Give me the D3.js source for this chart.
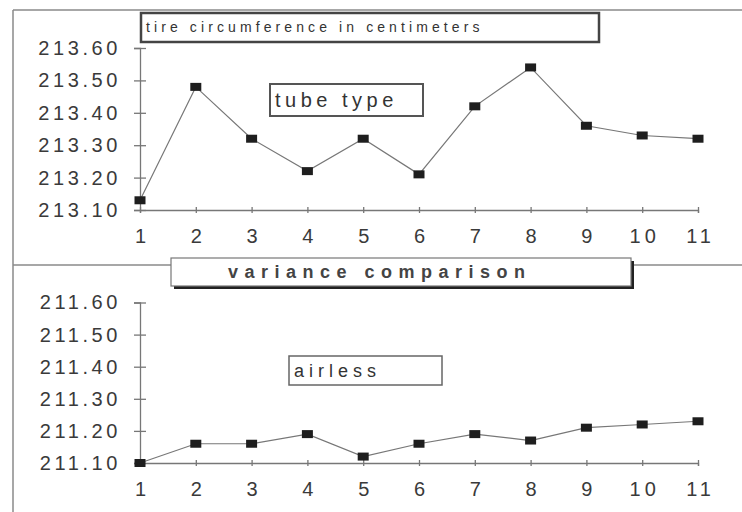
<!DOCTYPE html>
<html>
<head>
<meta charset="utf-8">
<script src="https://cdn.jsdelivr.net/npm/d3@7"></script>
<style>
  body { margin: 0; background: #fff; }
  svg { display: block; font-family: "Liberation Sans", Arial, sans-serif; }
</style>
</head>
<body>
<div id="chart"></div>
<script>
// run numbers along the bottom of both panels
const runs = [1, 2, 3, 4, 5, 6, 7, 8, 9, 10, 11]

// tire circumference in cm
const tubeType = [213.13, 213.48, 213.32, 213.22, 213.32, 213.21, 213.42, 213.54, 213.36, 213.33, 213.32]
const airless = [211.10, 211.16, 211.16, 211.19, 211.12, 211.16, 211.19, 211.17, 211.21, 211.22, 211.23]

// tick labels for the two y axes
const tubeTicks = [213.10, 213.20, 213.30, 213.40, 213.50, 213.60]
const airlessTicks = [211.10, 211.20, 211.30, 211.40, 211.50, 211.60]

const width = 742, height = 512

let svg = d3.select("#chart").append("svg")
    .attr("width", width)
    .attr("height", height)

// outer frame lines (the scan is cropped on the right and bottom)
let frame = svg.append("g").attr("stroke", "#8a8a8a").attr("stroke-width", 1.5).attr("fill", "none")
frame.append("line").attr("x1", 13).attr("y1", 10).attr("x2", width).attr("y2", 10)
frame.append("line").attr("x1", 13).attr("y1", 10).attr("x2", 13).attr("y2", height)
frame.append("line").attr("x1", 13).attr("y1", 265).attr("x2", 172).attr("y2", 265)
frame.append("line").attr("x1", 632).attr("y1", 265).attr("x2", width).attr("y2", 265)

let x = d3.scaleLinear().domain([1, 11]).range([140, 698])

// draws one panel: axes, line and square markers
function drawPanel(values, ticks, top, bottom) {
    let y = d3.scaleLinear().domain([ticks[0], ticks[ticks.length - 1]]).range([bottom, top])
    let g = svg.append("g")

    let yAxis = g.append("g")
        .attr("transform", "translate(" + x(1) + ",0)")
        .call(d3.axisLeft(y).tickValues(ticks).tickFormat(d3.format(".2f")).tickSizeOuter(0).tickSize(6).tickPadding(13))
    yAxis.select(".domain").attr("stroke", "#777").attr("stroke-width", 1.3)
    yAxis.selectAll(".tick line").attr("x2", 6).attr("x1", -6).attr("stroke", "#777").attr("stroke-width", 1.3)
    yAxis.selectAll(".tick text")
        .attr("fill", "#3a3a3a")
        .style("font-size", "20px")
        .style("letter-spacing", "3.6px")

    let xAxis = g.append("g")
        .attr("transform", "translate(0," + bottom + ")")
        .call(d3.axisBottom(x).tickValues(runs).tickFormat(d3.format("d")).tickSizeOuter(0).tickSize(3).tickPadding(16))
    xAxis.select(".domain").attr("stroke", "#777").attr("stroke-width", 1.3)
    xAxis.selectAll(".tick line").attr("y1", -3).attr("y2", 3).attr("stroke", "#777").attr("stroke-width", 1.3)
    xAxis.selectAll(".tick text")
        .attr("fill", "#3a3a3a")
        .attr("dx", "2px")
        .style("font-size", "20px")
        .style("letter-spacing", "4px")

    g.selectAll("text").attr("font-family", null)

    let line = d3.line()
        .x((d, i) => x(runs[i]))
        .y(d => y(d))

    g.append("path")
        .datum(values)
        .attr("d", line)
        .attr("fill", "none")
        .attr("stroke", "#777")
        .attr("stroke-width", 1.2)

    g.selectAll(".marker")
        .data(values)
        .enter().append("rect")
        .attr("class", "marker")
        .attr("x", (d, i) => x(runs[i]) - 5.5)
        .attr("y", d => y(d) - 4)
        .attr("width", 11)
        .attr("height", 8)
        .attr("fill", "#1e1e1e")
}

drawPanel(tubeType, tubeTicks, 48, 210)
drawPanel(airless, airlessTicks, 302.5, 463)

// text boxes pasted on the chart
function label(text, bx, by, bw, bh, size, spacing, opts) {
    opts = opts || {}
    if (opts.shadow) {
        svg.append("rect")
            .attr("x", bx + opts.shadow).attr("y", by + opts.shadow)
            .attr("width", bw).attr("height", bh)
            .attr("fill", "#222")
    }
    svg.append("rect")
        .attr("x", bx).attr("y", by)
        .attr("width", bw).attr("height", bh)
        .attr("fill", "#fff")
        .attr("stroke", opts.stroke || "#555")
        .attr("stroke-width", opts.sw || 1.5)
    svg.append("text")
        .attr("x", bx + (opts.pad || 5))
        .attr("y", by + bh / 2)
        .attr("dy", "0.35em")
        .attr("fill", opts.fill || "#333")
        .style("font-size", size + "px")
        .style("letter-spacing", spacing + "px")
        .style("font-weight", opts.bold ? "bold" : "normal")
        .text(text)
}

label("tire circumference in centimeters", 141, 13, 458, 29, 14, 4.1, { sw: 2.5, stroke: "#444" })
label("tube type", 270, 84, 153, 32, 20, 4.5, { sw: 2, stroke: "#555" })
label("variance comparison", 171, 258, 460, 28, 18, 6.5, { shadow: 3, sw: 1.2, stroke: "#777", bold: true, pad: 57, fill: "#444" })
label("airless", 289, 356, 153, 29, 18, 5, { sw: 1.5, stroke: "#666" })
</script>
</body>
</html>
